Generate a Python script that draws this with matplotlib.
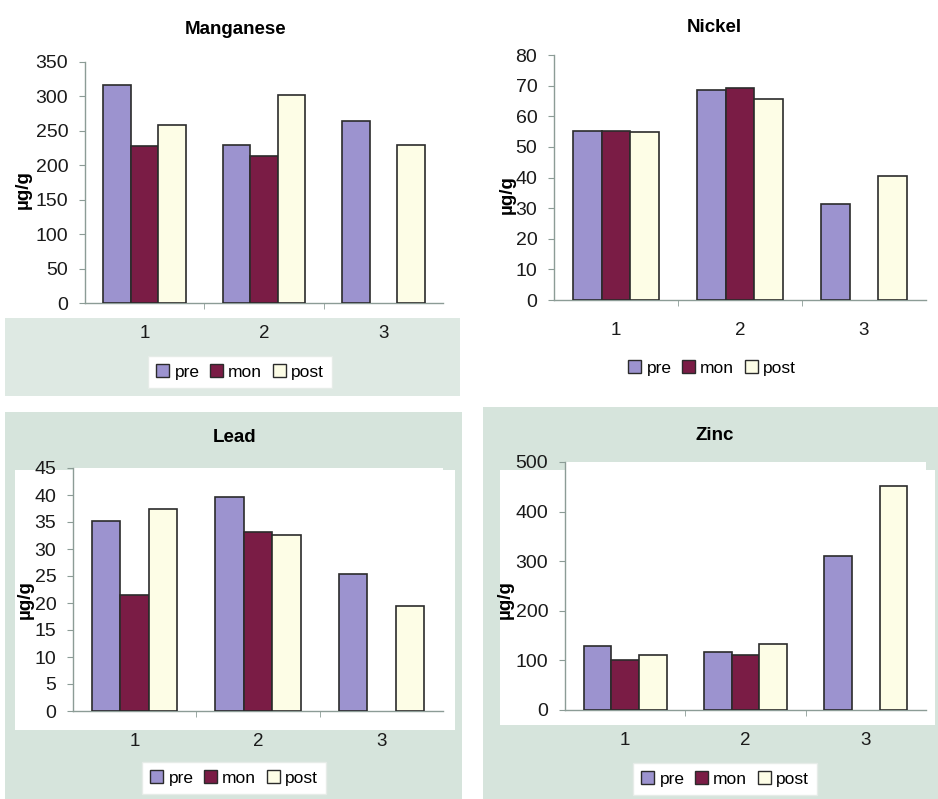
import matplotlib
matplotlib.use("Agg")
import matplotlib.pyplot as plt
import numpy as np
from matplotlib.patches import Rectangle, Patch

plt.rcParams["font.family"] = ["Liberation Sans", "DejaVu Sans"]

# sites on the x axis
categories = ["1", "2", "3"]
series = ["pre", "mon", "post"]

# values, ug/g (nan = no bar)
manganese_pre = [316, 229, 265]
manganese_mon = [228, 214, np.nan]
manganese_post = [258, 302, 230]

nickel_pre = [55.3, 68.6, 31.2]
nickel_mon = [55.3, 69.1, np.nan]
nickel_post = [54.9, 65.7, 40.5]

lead_pre = [35.1, 39.6, 25.4]
lead_mon = [21.5, 33.2, np.nan]
lead_post = [37.4, 32.6, 19.5]

zinc_pre = [129, 116, 311]
zinc_mon = [101, 111, np.nan]
zinc_post = [111, 133, 451]

COLORS = ["#9c93cf", "#7a1c45", "#fdfde6"]
EDGE = "#2b2b2b"
AXIS = "#8c9c96"
GREEN = "#d6e4dc"

W, H = 938, 799


def px_rect(left, top, right, bottom):
    return [left / W, 1 - bottom / H, (right - left) / W, (bottom - top) / H]


def panel(fig, box, title, title_xy, ylabel_xy, ymax, ystep,
          values, legend_xy, legend_frame, tick_size=14):
    ax = fig.add_axes(px_rect(*box))
    x = np.arange(1, len(categories) + 1)
    width = 0.23
    for i, (name, vals) in enumerate(zip(series, values)):
        ax.bar(x + (i - 1) * width, vals, width, color=COLORS[i],
               edgecolor=EDGE, linewidth=1.2, label=name, zorder=3)
    ax.set_xlim(0.5, 3.5)
    ax.set_ylim(0, ymax)
    ax.set_yticks(np.arange(0, ymax + ystep / 2, ystep))
    ax.set_xticks(x)
    ax.set_xticklabels(categories)
    ax.set_facecolor("white")
    for side in ["top", "right"]:
        ax.spines[side].set_visible(False)
    for side in ["left", "bottom"]:
        ax.spines[side].set_color(AXIS)
        ax.spines[side].set_linewidth(1.0)
    ax.tick_params(axis="y", length=4, color=AXIS, labelsize=tick_size,
                   pad=8, labelcolor="#1a1a1a")
    ax.tick_params(axis="x", length=4, color=AXIS, labelsize=13.5,
                   pad=12, labelcolor="#1a1a1a")
    ax.tick_params(axis="x", which="major", bottom=False)
    ax.set_xticks([1.5, 2.5], minor=True)
    ax.tick_params(axis="x", which="minor", length=4, color=AXIS)

    fig.text(title_xy[0] / W, 1 - title_xy[1] / H, title, ha="center",
             va="center", fontsize=13.5, fontweight="bold")
    fig.text(ylabel_xy[0] / W, 1 - ylabel_xy[1] / H, "µg/g", ha="center",
             va="center", rotation=90, fontsize=13.5, fontweight="bold")

    handles = [Patch(facecolor=COLORS[i], edgecolor=EDGE, linewidth=1.0)
               for i in range(3)]
    leg = fig.legend(handles, series, loc="center",
                     bbox_to_anchor=(legend_xy[0] / W, 1 - legend_xy[1] / H),
                     ncol=3, fontsize=12.5, frameon=legend_frame,
                     handlelength=0.75, handleheight=0.75, handletextpad=0.3,
                     columnspacing=0.6, borderpad=0.5, fancybox=False)
    if legend_frame:
        leg.get_frame().set_edgecolor("#e6ece8")
        leg.get_frame().set_facecolor("white")
        leg.get_frame().set_alpha(1)
    return ax


fig = plt.figure(figsize=(W / 100, H / 100), dpi=100)

# pale green scanned backgrounds behind the panels
bg = fig.add_axes([0, 0, 1, 1], zorder=-10)
bg.set_xlim(0, W)
bg.set_ylim(H, 0)
bg.axis("off")
bg.add_patch(Rectangle((5, 318), 455, 78, color=GREEN, alpha=0.8, lw=0))
bg.add_patch(Rectangle((5, 412), 457, 387, color=GREEN, lw=0))
bg.add_patch(Rectangle((483, 407), 455, 392, color=GREEN, lw=0))
bg.add_patch(Rectangle((15, 470), 440, 260, color="white", lw=0))
bg.add_patch(Rectangle((500, 470), 435, 255, color="white", lw=0))

panel(fig, (85, 62, 443, 303), "Manganese", (236, 30), (23, 190),
      350, 50, [manganese_pre, manganese_mon, manganese_post],
      (240, 372), True)
panel(fig, (554, 55, 926, 300), "Nickel", (714, 27), (507, 195),
      80, 10, [nickel_pre, nickel_mon, nickel_post],
      (712, 368), False)
panel(fig, (73, 468, 443, 711), "Lead", (235, 437), (25, 600),
      45, 5, [lead_pre, lead_mon, lead_post],
      (234, 778), True)
panel(fig, (565, 462, 926, 710), "Zinc", (715, 435), (505, 600),
      500, 100, [zinc_pre, zinc_mon, zinc_post],
      (725, 779), True)

fig.savefig("out.png", dpi=100)
